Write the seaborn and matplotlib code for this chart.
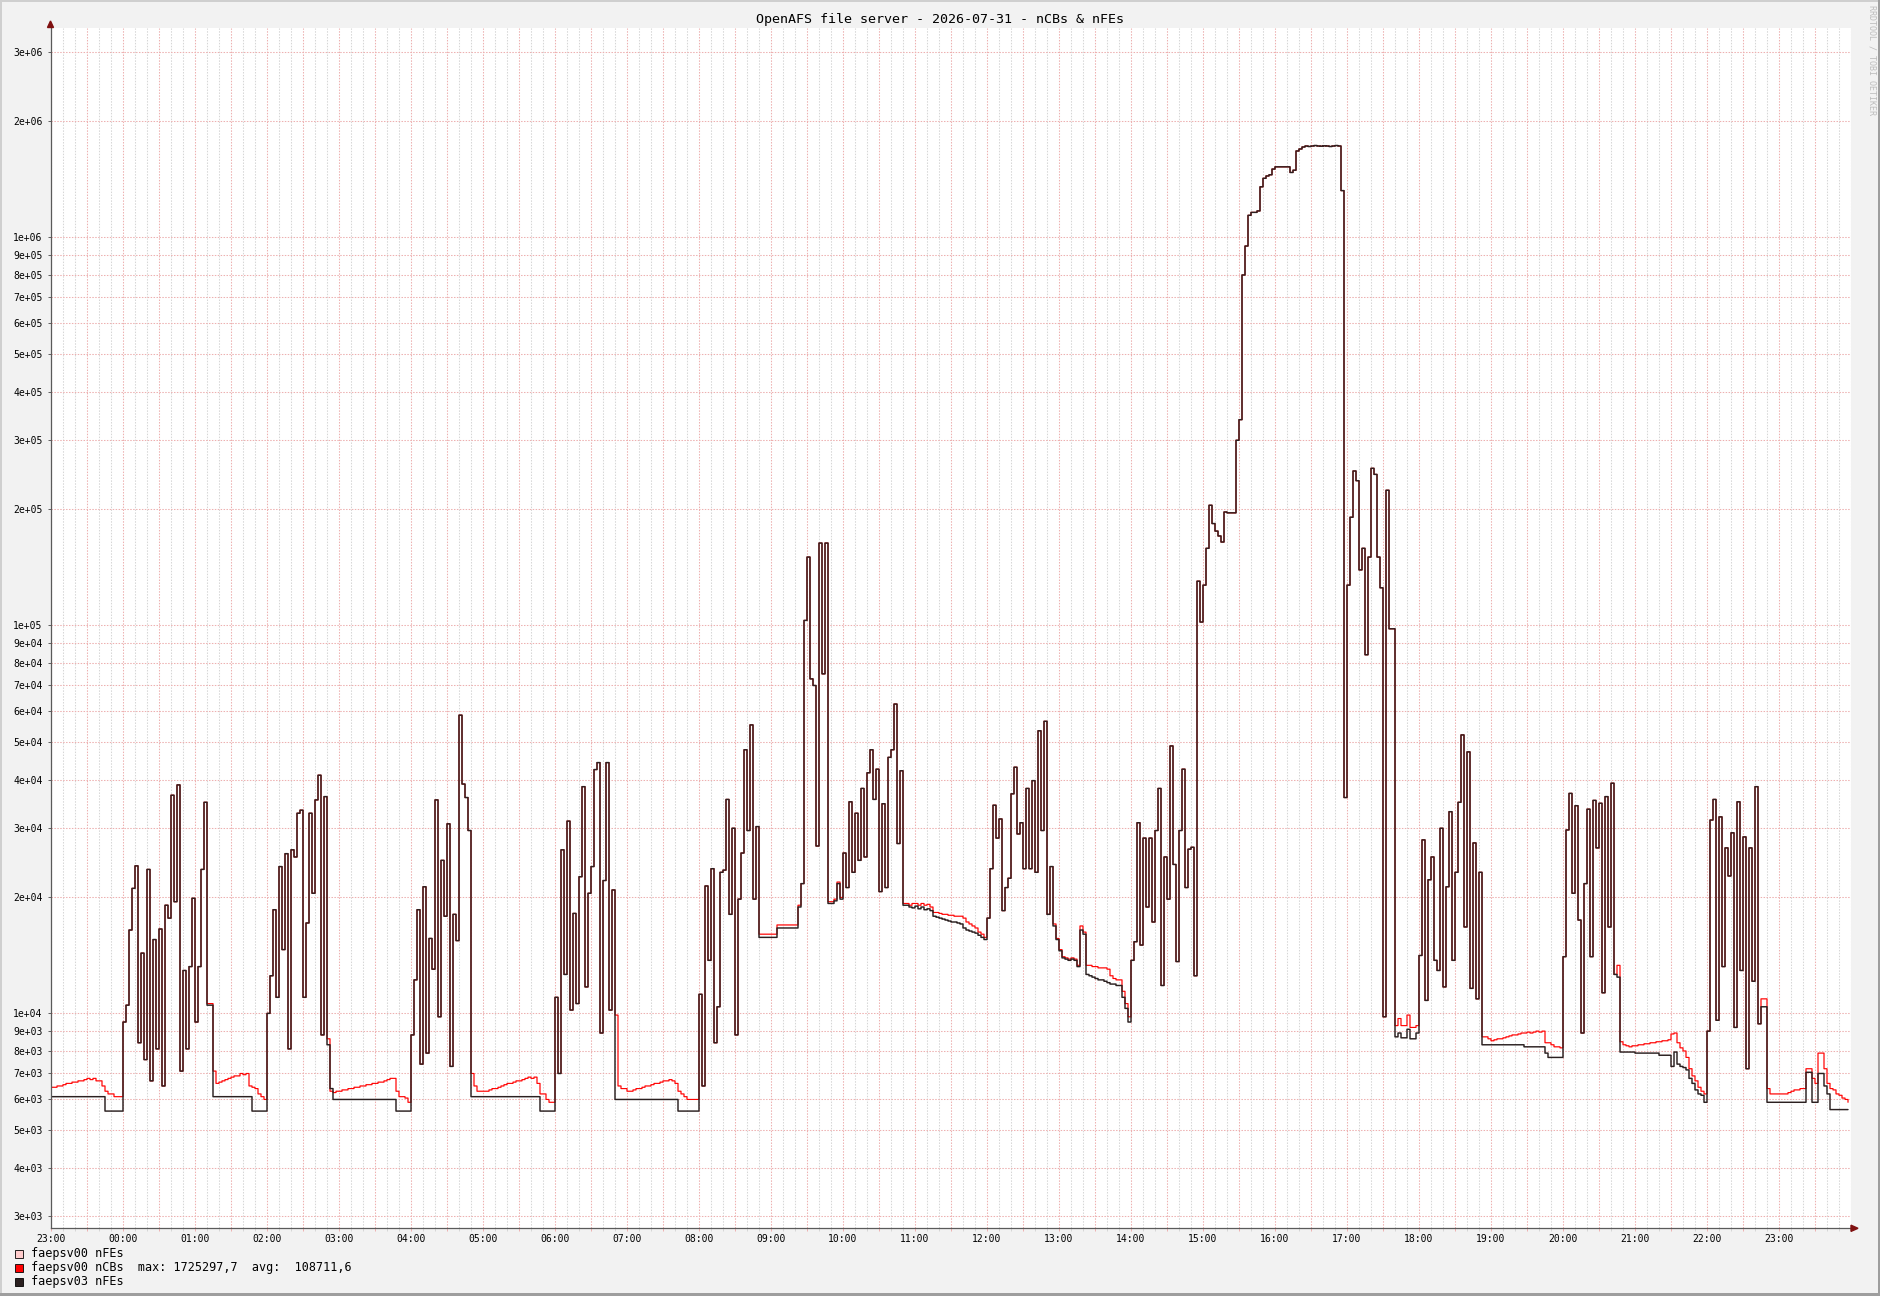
import numpy as np
import pandas as pd
import matplotlib
matplotlib.use("Agg")
import matplotlib.pyplot as plt
import seaborn as sns
from matplotlib.patches import Rectangle, Polygon
from matplotlib.ticker import FixedLocator, FuncFormatter, NullLocator

# ---------------- data (values in thousands, 2.5-minute steps) ----------------
# faepsv03 nFEs (dark line), one list per hour, first list = 23:00 of previous day
blk_m1 = [6.1, 6.1, 6.1, 6.1, 6.1, 6.1, 6.1, 6.1, 6.1, 6.1, 6.1, 6.1, 6.1, 6.1, 6.1, 6.1, 6.1, 6.1, 5.6, 5.6, 5.6, 5.6, 5.6, 5.6]
blk_00 = [9.5, 10.5, 16.4, 21, 24, 8.4, 14.3, 7.6, 23.5, 6.7, 15.5, 8.1, 16.5, 6.5, 19.0, 17.6, 36.5, 19.4, 38.8, 7.1, 12.9, 8.1, 13.2, 19.8]
blk_01 = [9.5, 13.2, 23.5, 35, 10.5, 10.5, 6.1, 6.1, 6.1, 6.1, 6.1, 6.1, 6.1, 6.1, 6.1, 6.1, 6.1, 6.1, 6.1, 5.6, 5.6, 5.6, 5.6, 5.6]
blk_02 = [10, 12.5, 18.5, 11, 23.9, 14.6, 25.8, 8.1, 26.4, 25.3, 32.8, 33.4, 11, 17.1, 32.8, 20.4, 35.5, 41.1, 8.8, 36.2, 8.3, 6.4, 6.0, 6.0]
blk_03 = [6.0, 6.0, 6.0, 6.0, 6.0, 6.0, 6.0, 6.0, 6.0, 6.0, 6.0, 6.0, 6.0, 6.0, 6.0, 6.0, 6.0, 6.0, 6.0, 5.6, 5.6, 5.6, 5.6, 5.6]
blk_04 = [8.8, 12.2, 18.5, 7.4, 21.2, 7.9, 15.6, 13, 35.5, 9.8, 24.8, 17.8, 30.8, 7.3, 18, 15.4, 58.7, 39, 36, 29.6, 6.1, 6.1, 6.1, 6.1]
blk_05 = [6.1, 6.1, 6.1, 6.1, 6.1, 6.1, 6.1, 6.1, 6.1, 6.1, 6.1, 6.1, 6.1, 6.1, 6.1, 6.1, 6.1, 6.1, 6.1, 5.6, 5.6, 5.6, 5.6, 5.6]
blk_06 = [11, 7.0, 26.4, 12.6, 31.3, 10.2, 18.1, 10.6, 22.5, 38.4, 11.7, 20.4, 23.9, 42.5, 44.3, 8.9, 22, 44.3, 10.2, 20.8, 6.0, 6.0, 6.0, 6.0]
blk_07 = [6.0, 6.0, 6.0, 6.0, 6.0, 6.0, 6.0, 6.0, 6.0, 6.0, 6.0, 6.0, 6.0, 6.0, 6.0, 6.0, 6.0, 5.6, 5.6, 5.6, 5.6, 5.6, 5.6, 5.6]
blk_08 = [11.2, 6.5, 21.3, 13.7, 23.6, 8.4, 10.4, 23.1, 23.4, 35.6, 18, 30, 8.8, 19.7, 25.9, 47.8, 29.6, 55.4, 19.7, 30.3, 15.7, 15.7, 15.7, 15.7]
blk_09 = [15.7, 15.7, 16.6, 16.6, 16.6, 16.6, 16.6, 16.6, 16.6, 18.8, 21.6, 103, 150, 72.8, 70, 27, 163, 75, 163, 19.2, 19.2, 19.5, 21.6, 19.7]
blk_10 = [25.9, 21.1, 35.1, 23.1, 32.8, 24.8, 38.0, 25.3, 41.7, 47.8, 35.6, 42.6, 20.6, 34.7, 21.1, 45.7, 47.8, 62.7, 27.4, 42.2, 19.0, 19.0, 18.8, 18.7]
blk_11 = [18.9, 18.6, 18.8, 18.5, 18.6, 18.4, 17.8, 17.7, 17.6, 17.5, 17.4, 17.3, 17.2, 17.2, 17.1, 17.0, 16.6, 16.4, 16.3, 16.2, 16.1, 15.9, 15.7, 15.5]
blk_12 = [17.6, 23.6, 34.4, 28.3, 31.7, 18.4, 21.1, 22.3, 36.8, 43.1, 29, 31, 23.6, 38.0, 23.6, 39.8, 23.1, 53.5, 29.6, 56.6, 18, 23.9, 16.8, 15.5]
blk_13 = [14.5, 13.9, 13.8, 13.7, 13.8, 13.7, 13.2, 16.4, 16.0, 12.6, 12.5, 12.4, 12.3, 12.2, 12.2, 12.1, 12.0, 11.9, 11.9, 11.8, 11.8, 11.0, 10.3, 9.5]
blk_14 = [13.7, 15.3, 31, 15, 28.3, 18.8, 28.3, 17.2, 29.6, 38, 11.8, 25.3, 19.7, 48.9, 24.2, 13.6, 29.6, 42.6, 21.1, 26.5, 26.8, 12.5, 130, 102]
blk_15 = [127, 158, 204, 183, 175, 170, 164, 196, 195, 195, 195, 300, 339, 800, 950, 1140, 1160, 1160, 1170, 1350, 1420, 1440, 1450, 1500]
blk_16 = [1520, 1520, 1520, 1520, 1520, 1470, 1490, 1670, 1690, 1710, 1720, 1715, 1720, 1725, 1720, 1718, 1722, 1720, 1715, 1720, 1725, 1720, 1320, 36]
blk_17 = [127, 190, 250, 236, 139, 158, 84, 150, 254, 245, 150, 125, 9.8, 223, 98, 98, 8.7, 8.9, 8.65, 8.65, 9.1, 8.6, 8.6, 8.9]
blk_18 = [14.1, 28, 10.8, 22.1, 25.3, 13.7, 12.9, 30, 11.7, 21.2, 33.1, 13.7, 23.1, 35, 52.2, 16.7, 47.2, 11.6, 27.5, 10.9, 23.1, 8.3, 8.3, 8.3]
blk_19 = [8.3, 8.3, 8.3, 8.3, 8.3, 8.3, 8.3, 8.3, 8.3, 8.3, 8.3, 8.2, 8.2, 8.2, 8.2, 8.2, 8.2, 8.2, 7.9, 7.7, 7.7, 7.7, 7.7, 7.7]
blk_20 = [14.0, 29.7, 36.9, 20.4, 34.3, 17.4, 8.9, 21.6, 33.6, 14, 35.4, 26.7, 34.8, 11.3, 36.2, 16.7, 39.2, 12.6, 12.4, 7.95, 7.95, 7.95, 7.95, 7.95]
blk_21 = [7.9, 7.9, 7.9, 7.9, 7.9, 7.9, 7.9, 7.9, 7.8, 7.8, 7.8, 7.8, 7.3, 7.95, 7.4, 7.3, 7.25, 7.15, 6.8, 6.6, 6.35, 6.2, 6.15, 5.9]
blk_22 = [9.0, 31.5, 35.6, 9.6, 32.1, 13.2, 26.7, 22.6, 29.2, 9.2, 35.1, 12.9, 28.5, 7.2, 26.7, 12.1, 38.4, 9.4, 10.4, 10.4, 5.9, 5.9, 5.9, 5.9]
blk_23 = [5.9, 5.9, 5.9, 5.9, 5.9, 5.9, 5.9, 5.9, 5.9, 7.05, 7.05, 5.9, 5.9, 7.0, 7.0, 6.5, 6.2, 5.65, 5.65, 5.65, 5.65, 5.65, 5.65, 5.65]

# faepsv00 nCBs (red line); equal to the dark line during busy periods
red_m1 = [6.45, 6.45, 6.5, 6.5, 6.55, 6.6, 6.6, 6.65, 6.65, 6.7, 6.7, 6.75, 6.8, 6.75, 6.8, 6.7, 6.7, 6.5, 6.3, 6.2, 6.2, 6.1, 6.1, 6.1]
red_00 = blk_00
red_01 = [9.5, 13.2, 23.5, 35, 10.6, 10.6, 7.1, 6.6, 6.65, 6.7, 6.75, 6.8, 6.85, 6.9, 6.9, 7.0, 6.95, 7.0, 6.5, 6.45, 6.4, 6.2, 6.1, 6.0]
red_02 = blk_02[:20] + [8.6, 6.3, 6.25, 6.3]
red_03 = [6.3, 6.35, 6.35, 6.4, 6.4, 6.45, 6.45, 6.5, 6.5, 6.55, 6.55, 6.6, 6.6, 6.65, 6.65, 6.7, 6.75, 6.8, 6.8, 6.3, 6.1, 6.1, 6.05, 5.9]
red_04 = blk_04[:20] + [7.0, 6.5, 6.3, 6.3]
red_05 = [6.3, 6.3, 6.35, 6.4, 6.4, 6.45, 6.5, 6.55, 6.6, 6.6, 6.65, 6.7, 6.7, 6.75, 6.8, 6.85, 6.8, 6.85, 6.6, 6.2, 6.2, 6.0, 5.9, 5.9]
red_06 = blk_06[:20] + [9.9, 6.5, 6.4, 6.4]
red_07 = [6.3, 6.3, 6.35, 6.4, 6.4, 6.45, 6.5, 6.5, 6.55, 6.6, 6.6, 6.65, 6.7, 6.7, 6.75, 6.7, 6.6, 6.3, 6.2, 6.1, 6.0, 6.0, 6.0, 6.0]
red_08 = blk_08[:20] + [16.0, 16.0, 16.0, 16.0]
red_09 = [16.0, 16.0, 16.9, 16.9, 16.9, 16.9, 16.9, 16.9, 16.9, 19.0, 21.6, 103, 150, 72.8, 70, 27, 163, 75, 163, 19.4, 19.4, 19.7, 21.8, 19.9]
red_10 = blk_10[:20] + [19.2, 19.2, 19.0, 19.2]
red_11 = [19.2, 19.0, 19.2, 19.0, 19.1, 18.8, 18.2, 18.2, 18.1, 18.0, 18.0, 17.9, 17.9, 17.8, 17.8, 17.8, 17.6, 17.2, 17.0, 16.8, 16.6, 16.2, 16.0, 15.7]
red_12 = blk_12[:22] + [17.0, 15.6]
red_13 = [14.6, 14.0, 13.9, 13.8, 13.9, 13.8, 13.3, 16.8, 16.2, 13.3, 13.3, 13.2, 13.2, 13.1, 13.1, 13.1, 13.0, 12.5, 12.3, 12.2, 12.2, 11.4, 10.6, 9.8]
red_14 = blk_14
red_15 = blk_15
red_16 = blk_16
red_17 = blk_17[:16] + [9.3, 9.7, 9.3, 9.3, 9.9, 9.2, 9.2, 9.3]
red_18 = blk_18[:21] + [8.7, 8.7, 8.6]
red_19 = [8.5, 8.55, 8.6, 8.6, 8.65, 8.7, 8.75, 8.8, 8.8, 8.85, 8.9, 8.9, 8.95, 8.9, 8.95, 9.0, 8.95, 9.0, 8.4, 8.4, 8.3, 8.2, 8.2, 8.15]
red_20 = blk_20[:18] + [13.3, 8.45, 8.3, 8.25, 8.2, 8.25]
red_21 = [8.25, 8.3, 8.3, 8.35, 8.35, 8.4, 8.4, 8.45, 8.45, 8.5, 8.5, 8.55, 8.85, 8.9, 8.4, 8.15, 8.0, 7.7, 7.2, 6.9, 6.7, 6.45, 6.3, 6.2]
red_22 = blk_22[:18] + [10.9, 10.9, 6.4, 6.2, 6.2, 6.2]
red_23 = [6.2, 6.2, 6.2, 6.25, 6.3, 6.35, 6.35, 6.4, 6.4, 7.2, 7.2, 6.8, 6.6, 7.9, 7.9, 7.2, 6.6, 6.4, 6.35, 6.2, 6.15, 6.05, 6.0, 5.9]

series_names = ["faepsv00 nFEs", "faepsv00 nCBs", "faepsv03 nFEs"]
series_colors = ["#FFCCCC", "#FF0000", "#2B2020"]
series_widths = [0.8, 0.8, 1.05]
legend_extra = ["", "  max: 1725297,7  avg:  108711,6", ""]
hour_labels = ["23:00", "00:00", "01:00", "02:00", "03:00", "04:00", "05:00", "06:00", "07:00",
               "08:00", "09:00", "10:00", "11:00", "12:00", "13:00", "14:00", "15:00", "16:00",
               "17:00", "18:00", "19:00", "20:00", "21:00", "22:00", "23:00"]
title = "OpenAFS file server - 2026-07-31 - nCBs & nFEs"

black = (blk_m1 + blk_00 + blk_01 + blk_02 + blk_03 + blk_04 + blk_05 + blk_06 + blk_07 + blk_08 +
         blk_09 + blk_10 + blk_11 + blk_12 + blk_13 + blk_14 + blk_15 + blk_16 + blk_17 + blk_18 +
         blk_19 + blk_20 + blk_21 + blk_22 + blk_23)
red = (red_m1 + red_00 + red_01 + red_02 + red_03 + red_04 + red_05 + red_06 + red_07 + red_08 +
       red_09 + red_10 + red_11 + red_12 + red_13 + red_14 + red_15 + red_16 + red_17 + red_18 +
       red_19 + red_20 + red_21 + red_22 + red_23)
pink = red  # faepsv00 nFEs lies underneath the nCBs line

n = len(black)
t = -1 + np.arange(n) / 24.0
df = pd.DataFrame({
    "t": np.concatenate([t, t, t]),
    "v": np.concatenate([pink, red, black]) * 1000.0,
    "series": [series_names[0]] * n + [series_names[1]] * n + [series_names[2]] * n,
})

# ---------------- figure ----------------
sns.set_theme(style="white")
plt.rcParams["font.family"] = ["DejaVu Sans Mono", "DejaVu Sans"]
W, H = 1881, 1296
fig = plt.figure(figsize=(W / 100, H / 100), dpi=100, facecolor="#F2F2F2")

def fx(x):
    return x / W

def fy(y):
    return 1 - y / H

ax_l, ax_r, ax_t, ax_b = 51, 1851, 27.5, 1228.3
ax = fig.add_axes([fx(ax_l), fy(ax_b), (ax_r - ax_l) / W, (ax_b - ax_t) / H])
ax.set_facecolor("white")

for name, col, lw in zip(series_names, series_colors, series_widths):
    sns.lineplot(data=df[df["series"] == name], x="t", y="v", color=col, drawstyle="steps-post",
                 linewidth=lw, estimator=None, legend=False, sort=False, ax=ax)

ax.set_yscale("log")
ax.set_xlim(-1, 24)
ax.set_ylim(2793, 3.475e6)

yt = [k * 10 ** e for e in range(3, 7) for k in range(1, 10) if 2793 <= k * 10 ** e <= 3.475e6]
ax.yaxis.set_major_locator(FixedLocator(yt))
ax.yaxis.set_minor_locator(NullLocator())

def yfmt(v, p):
    e = int(np.floor(np.log10(v) + 1e-9))
    m = int(round(v / 10 ** e))
    return f"{m}e+{e:02d}"

ax.yaxis.set_major_formatter(FuncFormatter(yfmt))

xt = np.arange(-1, 24.001, 0.5)
ax.xaxis.set_major_locator(FixedLocator(xt))
xm = [v for v in np.arange(-1, 24.001, 1 / 6.0) if abs(v * 2 - round(v * 2)) > 1e-6]
ax.xaxis.set_minor_locator(FixedLocator(xm))

def xfmt(v, p):
    if abs(v - round(v)) < 1e-6:
        i = int(round(v)) + 1
        if 0 <= i < len(hour_labels):
            return hour_labels[i]
    return ""

ax.xaxis.set_major_formatter(FuncFormatter(xfmt))

dot = (0, (1.4, 1.4))
ax.grid(False)
ax.yaxis.grid(True, which="major", color="#EDB0B0", linestyle=dot, linewidth=0.75)
ax.xaxis.grid(True, which="major", color="#EDB0B0", linestyle=dot, linewidth=0.75)
ax.xaxis.grid(True, which="minor", color="#D6D6D6", linestyle=dot, linewidth=0.75)
ax.set_axisbelow(True)

ax.tick_params(axis="y", which="major", length=2, width=0.7, color="#606060", pad=4,
               labelsize=7, labelcolor="#000000", left=True)
ax.tick_params(axis="x", which="major", length=2.5, width=0.7, color="#EDB0B0", pad=1.8,
               labelsize=7, labelcolor="#000000", bottom=True)
ax.tick_params(axis="x", which="minor", length=2.5, width=0.7, color="#D6D6D6", bottom=True)
ax.set_xlabel("")
ax.set_ylabel("")

for s in ["top", "right"]:
    ax.spines[s].set_visible(False)
for s in ["left", "bottom"]:
    ax.spines[s].set_color("#5A5A5A")
    ax.spines[s].set_linewidth(0.9)

# axis arrows
fig.add_artist(Polygon([(fx(47.5), fy(27.5)), (fx(53.5), fy(27.5)), (fx(50.5), fy(21))],
                       closed=True, color="#7F1010", transform=fig.transFigure))
fig.add_artist(Polygon([(fx(1851), fy(1225.2)), (fx(1851), fy(1231.4)), (fx(1858), fy(1228.3))],
                       closed=True, color="#7F1010", transform=fig.transFigure))

# title
fig.text(fx(940), fy(19), title, ha="center", va="center", fontsize=9.6, color="#000000")

# watermark
fig.text(fx(1872), fy(60), "RRDTOOL / TOBI OETIKER", rotation=270, ha="center", va="center",
         fontsize=6, color="#BDBDBD")

# legend
rows_y = [1254, 1268, 1282]
for name, col, extra, yy in zip(series_names, series_colors, legend_extra, rows_y):
    fig.add_artist(Rectangle((fx(15), fy(yy + 4)), 8 / W, 8 / H, facecolor=col,
                             edgecolor="#000000", linewidth=0.6, transform=fig.transFigure))
    fig.text(fx(31), fy(yy), name + extra, ha="left", va="center", fontsize=8.5, color="#000000")

# frame shading
fig.add_artist(Rectangle((0, fy(2)), 1, 2 / H, facecolor="#CFCFCF", edgecolor="none",
                         transform=fig.transFigure))
fig.add_artist(Rectangle((0, 0), 2 / W, 1, facecolor="#CFCFCF", edgecolor="none",
                         transform=fig.transFigure))
fig.add_artist(Rectangle((fx(1878), 0), 3 / W, 1, facecolor="#9E9E9E", edgecolor="none",
                         transform=fig.transFigure))
fig.add_artist(Rectangle((0, 0), 1, 3 / H, facecolor="#9E9E9E", edgecolor="none",
                         transform=fig.transFigure))

fig.savefig("out.png", dpi=100, facecolor=fig.get_facecolor())
